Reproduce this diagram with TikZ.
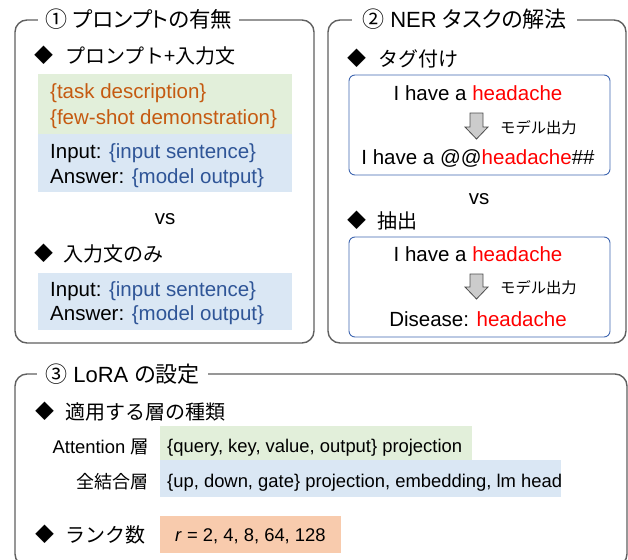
\documentclass[tikz,border=0pt]{standalone}
\usepackage{fontspec}
\setmainfont{Liberation Sans}
\newfontfamily\jp{Noto Sans CJK JP}
\newfontfamily\jpp[RawFeature=+palt]{Noto Sans CJK JP}
\definecolor{framegray}{HTML}{606060}
\definecolor{gfill}{HTML}{E2EFDA}
\definecolor{bfill}{HTML}{DAE7F4}
\definecolor{ofill}{HTML}{F8CBAD}
\definecolor{torange}{HTML}{C55A11}
\definecolor{tblue}{HTML}{2F5597}
\definecolor{tred}{HTML}{FF0000}
\definecolor{iborder}{HTML}{3F66B0}
\begin{document}
\begin{tikzpicture}[x=1pt,y=-1pt,
  frame/.style={draw=framegray, line width=1.4pt, rounded corners=12pt},
  ibox/.style={draw=iborder, line width=0.9pt, rounded corners=6pt},
  ttl/.style={fill=white, inner xsep=8pt, inner ysep=1pt, anchor=base west, font=\fontsize{22}{26}\selectfont},
  itm/.style={inner sep=0pt, anchor=base west, font=\fontsize{20}{24}\selectfont\jp},
  dia/.style={inner sep=0pt, anchor=base west, font=\fontsize{19}{22}\selectfont\jp},
  txt/.style={inner sep=0pt, anchor=base west, font=\fontsize{20.5}{24}\selectfont},
  ctxt/.style={inner sep=0pt, anchor=base, font=\fontsize{20.5}{24}\selectfont},
  stxt/.style={inner sep=0pt, anchor=base west, font=\fontsize{18.4}{22}\selectfont},
  small/.style={inner sep=0pt, anchor=base west, font=\fontsize{15.3}{18}\selectfont\jp},
  garrow/.style={draw=black!70, fill=black!20, line width=0.8pt, line join=miter}
]
\useasboundingbox (0,0) rectangle (628,559);

% ---------- Box 1 ----------
\draw[frame] (15,20) rectangle (314,343);
\node[ttl, inner xsep=7pt] (t1) at (38,28) {{\jpp ①}\hspace{6pt}{\fontsize{21.5}{26}\jpp プロンプトの有無}};
\node[dia] (d1) at (34,63) {◆};
\node[itm] (i1) at (65,64) {プロンプト+入力文};
\fill[gfill] (38,74) rectangle (292,134);
\fill[bfill] (38,134) rectangle (292,192);
\node[txt, text=torange] (a1) at (50,99) {\{task description\}};
\node[txt, text=torange] (a2) at (50,124) {\{few-shot demonstration\}};
\node[txt] (a3) at (50,158) {Input: {\color{tblue}\{input sentence\}}};
\node[txt] (a4) at (50,183) {Answer: {\color{tblue}\{model output\}}};
\node[ctxt] (vs1) at (165,224) {vs};
\node[dia] (d2) at (34,260) {◆};
\node[itm] (i2) at (63,261) {入力文のみ};
\fill[bfill] (38,273) rectangle (292,330);
\node[txt] (a5) at (50,296) {Input: {\color{tblue}\{input sentence\}}};
\node[txt] (a6) at (50,320) {Answer: {\color{tblue}\{model output\}}};

% ---------- Box 2 ----------
\draw[frame] (328,20) rectangle (626,343);
\node[ttl, inner xsep=10pt] (t2) at (352,28) {{\jpp ②} NER {\jpp タスクの解法}};
\node[dia] (d3) at (347,66) {◆};
\node[itm] (i3) at (378,67) {タグ付け};
\draw[ibox] (349,75) rectangle (610,175);
\node[ctxt] (b1) at (478,101) {I have a {\color{tred}headache}};
\draw[garrow] (470,113) -- (483,113) -- (483,127) -- (488,127) -- (476.5,139) -- (465,127) -- (470,127) -- cycle;
\node[small] (m1) at (500,133) {モデル出力};
\node[ctxt] (b2) at (478,164) {I have a @@{\color{tred}headache}\#\#};
\node[ctxt] (vs2) at (479,204) {vs};
\node[dia] (d4) at (347,227) {◆};
\node[itm] (i4) at (377,228) {抽出};
\draw[ibox] (349,237) rectangle (610,337);
\node[ctxt] (b3) at (478,261) {I have a {\color{tred}headache}};
\draw[garrow] (470,274) -- (483,274) -- (483,287) -- (488,287) -- (476.5,299) -- (465,287) -- (470,287) -- cycle;
\node[small] (m2) at (500,293) {モデル出力};
\node[ctxt] (b4) at (478,326) {Disease: {\color{tred}headache}};

% ---------- Box 3 ----------
\draw[frame] (15,374) rectangle (627,566);
\node[ttl] (t3) at (37,382) {{\jpp ③} LoRA {\jpp の設定}};
\node[dia] (d5) at (35,418) {◆};
\node[itm] (i5) at (65,419) {適用する層の種類};
\fill[gfill] (160,426) rectangle (472,460);
\fill[bfill] (160,460) rectangle (561,497);
\node[stxt, anchor=base east] (l1) at (149,453) {Attention {\jp 層}};
\node[stxt, anchor=base east, font=\fontsize{18}{21}\selectfont\jp] (l2) at (149,488) {全結合層};
\node[stxt] (c1) at (167,452) {\{query, key, value, output\} projection};
\node[stxt] (c2) at (167,487) {\{up, down, gate\} projection, embedding, lm head};
\node[dia] (d6) at (35,541) {◆};
\node[itm] (i6) at (65,542) {ランク数};
\fill[ofill] (160,516) rectangle (341,553);
\node[stxt] (c3) at (175,541) {\textit{r} = 2, 4, 8, 64, 128};
\end{tikzpicture}
\end{document}
